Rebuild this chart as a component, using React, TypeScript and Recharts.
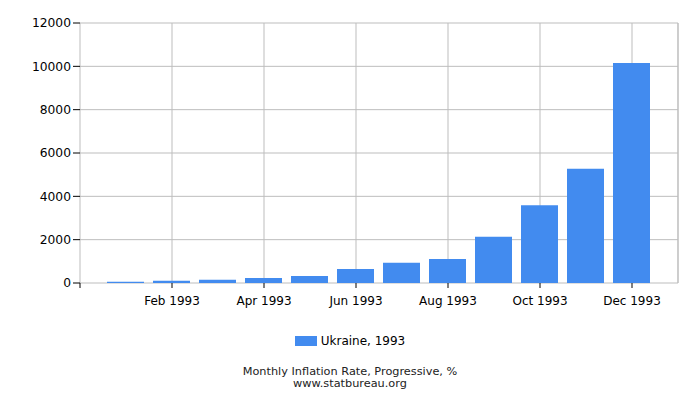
import React from 'react';
import { BarChart, Bar, XAxis, YAxis, CartesianGrid, ReferenceLine } from 'recharts';

const months = ['Jan 1993', 'Feb 1993', 'Mar 1993', 'Apr 1993', 'May 1993', 'Jun 1993', 'Jul 1993', 'Aug 1993', 'Sep 1993', 'Oct 1993', 'Nov 1993', 'Dec 1993'];
const ukraine1993 = [60, 100, 150, 230, 320, 650, 930, 1110, 2140, 3590, 5270, 10150];
const yTicks = [0, 2000, 4000, 6000, 8000, 10000, 12000];
const xTicks = [0, 2, 4, 6, 8, 10, 12];

const seriesName = 'Ukraine, 1993';
const title = 'Monthly Inflation Rate, Progressive, %';
const source = 'www.statbureau.org';

const data = months.map((m, i) => ({ idx: i + 1, label: m, value: ukraine1993[i] }));

const BLUE = '#428bef';
const GRID = '#bdbdbd';
const FONT = '"DejaVu Sans", sans-serif';

const App: React.FC = () => {
    return (
        <div style={{ position: 'absolute', left: 0, top: 0, width: 700, height: 400, fontFamily: FONT }}>
            <BarChart
                width={700}
                height={400}
                data={data}
                margin={{ top: 23, right: 22, left: 0, bottom: 87 }}
            >
                <CartesianGrid stroke={GRID} />
                <XAxis
                    type="number"
                    dataKey="idx"
                    domain={[0, 13]}
                    ticks={xTicks}
                    tickFormatter={(v) => (v >= 1 ? months[v - 1] : '')}
                    axisLine={false}
                    tickLine={{ stroke: '#000' }}
                    tickSize={5}
                    tickMargin={8}
                    height={30}
                    tick={{ fill: '#000', fontSize: 12, fontFamily: FONT }}
                    interval={0}
                />
                <YAxis
                    domain={[0, 12000]}
                    ticks={yTicks}
                    axisLine={false}
                    tickLine={{ stroke: '#000' }}
                    tickSize={7}
                    tickMargin={2}
                    width={80}
                    tick={{ fill: '#000', fontSize: 12.3, fontFamily: FONT }}
                    interval={0}
                />
                <ReferenceLine x={13} stroke={GRID} />
                <Bar dataKey="value" name={seriesName} fill={BLUE} barSize={37} isAnimationActive={false} />
            </BarChart>
            <div style={{ position: 'absolute', left: 0, top: 334, width: 700, display: 'flex', justifyContent: 'center', alignItems: 'center', fontSize: 12, color: '#000' }}>
                <span style={{ display: 'inline-block', width: 22, height: 10, background: BLUE, marginRight: 4 }} />
                <span>{seriesName}</span>
            </div>
            <div style={{ position: 'absolute', left: 0, top: 366, width: 700, textAlign: 'center', fontSize: 11.3, lineHeight: '12px', color: '#222' }}>
                <div>{title}</div>
                <div>{source}</div>
            </div>
        </div>
    );
};

export default App;
